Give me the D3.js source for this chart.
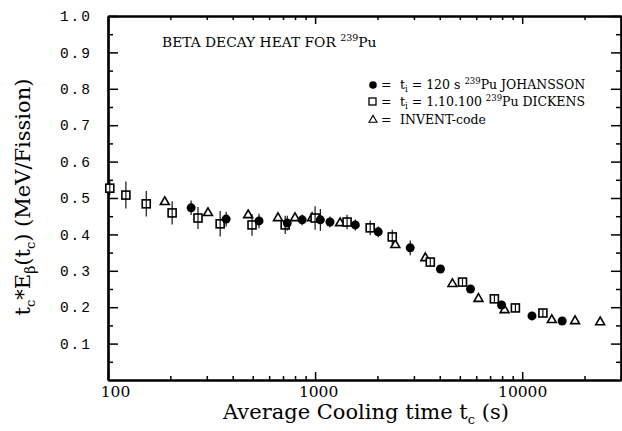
<!DOCTYPE html>
<html>
<head>
<meta charset="utf-8">
<script src="https://cdn.jsdelivr.net/npm/d3@7"></script>
<style>
html,body{margin:0;padding:0;background:#fff;}
svg{display:block;}
</style>
</head>
<body>
<svg id="chart" width="622" height="431"></svg>
<script>
// ---- data ----
const johanssonX = [252, 372, 536, 734, 866, 1060, 1180, 1564, 2018, 2879, 4030, 5630, 7950, 11150, 15600];
const johanssonY = [0.473, 0.442, 0.437, 0.431, 0.440, 0.440, 0.434, 0.426, 0.407, 0.363, 0.305, 0.250, 0.206, 0.176, 0.162];
const johanssonErr = [0.02, 0.02, 0.02, 0.02, 0.015, 0.03, 0.015, 0.015, 0.015, 0.02, 0.01, 0, 0, 0, 0];

const dickensX = [102, 122, 153, 204, 272, 348, 496, 717, 1000, 1427, 1845, 2358, 3600, 5150, 7340, 9270, 12590];
const dickensY = [0.527, 0.508, 0.484, 0.459, 0.445, 0.429, 0.426, 0.426, 0.445, 0.434, 0.418, 0.393, 0.324, 0.269, 0.223, 0.198, 0.184];
const dickensErr = [0.02, 0.037, 0.035, 0.032, 0.03, 0.035, 0.03, 0.025, 0.032, 0.02, 0.02, 0.02, 0.012, 0.012, 0.012, 0.01, 0.01];

const inventX = [188, 304, 475, 662, 800, 967, 1320, 2440, 3405, 4605, 6150, 8220, 13900, 18000, 23800];
const inventY = [0.489, 0.459, 0.453, 0.445, 0.445, 0.445, 0.431, 0.371, 0.335, 0.264, 0.223, 0.192, 0.165, 0.162, 0.159];

const xMajorTicks = [100, 1000, 10000];
const xMinorTicks = [200,300,400,500,600,700,800,900,2000,3000,4000,5000,6000,7000,8000,9000,20000,30000];
const yMajorTicks = [0.1,0.2,0.3,0.4,0.5,0.6,0.7,0.8,0.9,1.0];
const yMinorTicks = [0.05,0.15,0.25,0.35,0.45,0.55,0.65,0.75,0.85,0.95];

// ---- layout ----
const svg = d3.select("#chart");
const L = 108, R = 621, T = 16, B = 380;
const x = d3.scaleLog().domain([100, 30000]).range([L, R]);
const y = d3.scaleLinear().domain([0, 1]).range([B, T]);
const serif = "'DejaVu Serif', serif";

function styleAxis(g, w) {
  g.select(".domain").attr("stroke", "#000").attr("stroke-width", w);
  g.selectAll(".tick line").attr("stroke", "#000").attr("stroke-width", 1.5);
}

// minor ticks
svg.append("g").attr("transform", `translate(0,${B})`)
  .call(d3.axisBottom(x).tickValues(xMinorTicks).tickSize(-4).tickSizeOuter(0).tickFormat(""))
  .call(g => styleAxis(g, 2.2));
svg.append("g").attr("transform", `translate(0,${T})`)
  .call(d3.axisTop(x).tickValues(xMinorTicks).tickSize(-4).tickSizeOuter(0).tickFormat(""))
  .call(g => styleAxis(g, 2.2));
svg.append("g").attr("transform", `translate(${L},0)`)
  .call(d3.axisLeft(y).tickValues(yMinorTicks).tickSize(-5).tickSizeOuter(0).tickFormat(""))
  .call(g => styleAxis(g, 2.2));
svg.append("g").attr("transform", `translate(${R},0)`)
  .call(d3.axisRight(y).tickValues(yMinorTicks).tickSize(-5).tickSizeOuter(0).tickFormat(""))
  .call(g => styleAxis(g, 2.2));

// major ticks
const xb = svg.append("g").attr("transform", `translate(0,${B})`)
  .call(d3.axisBottom(x).tickValues(xMajorTicks).tickSize(-8).tickSizeOuter(0).tickPadding(6).tickFormat(d3.format("d")))
  .call(g => styleAxis(g, 2.2));
xb.selectAll(".tick text").attr("font-family", serif).attr("font-size", 15.5).attr("fill", "#000")
  .attr("dx", (d) => d === 100 ? 7 : (d === 1000 ? 3 : 0));
svg.append("g").attr("transform", `translate(0,${T})`)
  .call(d3.axisTop(x).tickValues(xMajorTicks).tickSize(-8).tickSizeOuter(0).tickFormat(""))
  .call(g => styleAxis(g, 2.2));
const yl = svg.append("g").attr("transform", `translate(${L},0)`)
  .call(d3.axisLeft(y).tickValues(yMajorTicks).tickSize(-10).tickSizeOuter(0).tickPadding(16).tickFormat(d3.format(".1f")))
  .call(g => styleAxis(g, 2.2));
yl.selectAll(".tick text").attr("font-family", "'Liberation Mono', monospace").attr("font-size", 14.5)
  .attr("letter-spacing", 2).attr("fill", "#000");
svg.append("g").attr("transform", `translate(${R},0)`)
  .call(d3.axisRight(y).tickValues(yMajorTicks).tickSize(-10).tickSizeOuter(0).tickFormat(""))
  .call(g => styleAxis(g, 2.2));

// ---- data marks ----
const plot = svg.append("g");
function errBars(xs, ys, es) {
  plot.append("g").selectAll("line").data(xs.map((d, i) => [d, ys[i], es[i]]).filter(d => d[2] > 0))
    .join("line")
    .attr("x1", d => x(d[0])).attr("x2", d => x(d[0]))
    .attr("y1", d => y(d[1] + d[2])).attr("y2", d => y(d[1] - d[2]))
    .attr("stroke", "#000").attr("stroke-width", 1.1);
}
errBars(dickensX, dickensY, dickensErr);
errBars(johanssonX, johanssonY, johanssonErr);

plot.append("g").selectAll("path").data(inventX.map((d, i) => [d, inventY[i]]))
  .join("path")
  .attr("d", d3.symbol(d3.symbolTriangle, 34))
  .attr("transform", d => `translate(${x(d[0])},${y(d[1])})`)
  .attr("fill", "#fff").attr("stroke", "#000").attr("stroke-width", 1.6);

plot.append("g").selectAll("rect").data(dickensX.map((d, i) => [d, dickensY[i]]))
  .join("rect")
  .attr("x", d => x(d[0]) - 4).attr("y", d => y(d[1]) - 4)
  .attr("width", 8).attr("height", 8)
  .attr("fill", "#fff").attr("stroke", "#000").attr("stroke-width", 1.6);
plot.append("g").selectAll("line").data(dickensX.map((d, i) => [d, dickensY[i]]))
  .join("line")
  .attr("x1", d => x(d[0])).attr("x2", d => x(d[0]))
  .attr("y1", d => y(d[1]) - 4).attr("y2", d => y(d[1]) + 4)
  .attr("stroke", "#000").attr("stroke-width", 1.1);

plot.append("g").selectAll("circle").data(johanssonX.map((d, i) => [d, johanssonY[i]]))
  .join("circle")
  .attr("cx", d => x(d[0])).attr("cy", d => y(d[1])).attr("r", 4.5)
  .attr("fill", "#000");

// ---- texts ----
const title = svg.append("text").attr("x", 162).attr("y", 47)
  .attr("font-family", serif).attr("font-size", 13.8).attr("fill", "#000");
title.append("tspan").text("BETA DECAY HEAT FOR ");
title.append("tspan").attr("font-size", 9.5).attr("dy", -6).text("239");
title.append("tspan").attr("dy", 6).text("Pu");

// legend
const lg = svg.append("g").attr("font-family", serif).attr("font-size", 12.5).attr("fill", "#000");
const ly = [89, 106, 124];
lg.append("circle").attr("cx", 373).attr("cy", ly[0] - 4).attr("r", 3.8).attr("fill", "#000");
lg.append("rect").attr("x", 369).attr("y", ly[1] - 8).attr("width", 7).attr("height", 7)
  .attr("fill", "#fff").attr("stroke", "#000").attr("stroke-width", 1.3);
lg.append("path").attr("d", d3.symbol(d3.symbolTriangle, 28))
  .attr("transform", `translate(373,${ly[2] - 4})`).attr("fill", "#fff").attr("stroke", "#000").attr("stroke-width", 1.1);
[0, 1, 2].forEach(i => lg.append("text").attr("x", 381).attr("y", ly[i]).text("="));

const l1 = lg.append("text").attr("x", 400).attr("y", ly[0]);
l1.append("tspan").text("t");
l1.append("tspan").attr("font-size", 8.5).attr("dy", 3).text("i");
l1.append("tspan").attr("dy", -3).text(" =  120 s ");
l1.append("tspan").attr("font-size", 8.5).attr("dy", -5).text("239");
l1.append("tspan").attr("dy", 5).text("Pu JOHANSSON");

const l2 = lg.append("text").attr("x", 400).attr("y", ly[1]);
l2.append("tspan").text("t");
l2.append("tspan").attr("font-size", 8.5).attr("dy", 3).text("i");
l2.append("tspan").attr("dy", -3).text(" = 1.10.100 ");
l2.append("tspan").attr("font-size", 8.5).attr("dy", -5).text("239");
l2.append("tspan").attr("dy", 5).text("Pu DICKENS");

lg.append("text").attr("x", 400).attr("y", ly[2]).text("INVENT-code");

// x axis title
const xt = svg.append("text").attr("x", 366).attr("y", 419).attr("text-anchor", "middle")
  .attr("font-family", serif).attr("font-size", 21).attr("fill", "#000");
xt.append("tspan").text("Average Cooling time t");
xt.append("tspan").attr("font-size", 13).attr("dy", 5).text("c");
xt.append("tspan").attr("dy", -5).text(" (s)");

// y axis title
const yt = svg.append("text").attr("transform", "translate(30,197) rotate(-90)").attr("text-anchor", "middle")
  .attr("font-family", serif).attr("font-size", 21).attr("fill", "#000");
yt.append("tspan").text("t");
yt.append("tspan").attr("font-size", 13).attr("dy", 5).text("c");
yt.append("tspan").attr("dy", -5).text("*E");
yt.append("tspan").attr("font-size", 14).attr("dy", 5).text("β");
yt.append("tspan").attr("dy", -5).text("(t");
yt.append("tspan").attr("font-size", 13).attr("dy", 5).text("c");
yt.append("tspan").attr("dy", -5).text(") (MeV/Fission)");
</script>
</body>
</html>
